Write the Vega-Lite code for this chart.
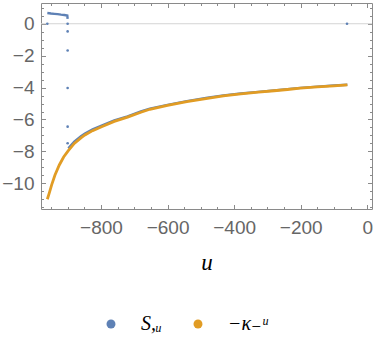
{
  "$schema": "https://vega.github.io/schema/vega-lite/v6.json",
  "width": 331,
  "height": 206,
  "autosize": "none",
  "padding": {"left": 41, "top": 3, "right": 3, "bottom": 148},
  "background": "white",
  "config": {"view": {"stroke": null}},
  "datasets": {
    "blueLine": [
      {"s": "S,ᵤ", "seg": "a", "u": -961, "v": 0.67},
      {"s": "S,ᵤ", "seg": "a", "u": -950, "v": 0.64},
      {"s": "S,ᵤ", "seg": "a", "u": -940, "v": 0.62},
      {"s": "S,ᵤ", "seg": "a", "u": -930, "v": 0.6},
      {"s": "S,ᵤ", "seg": "a", "u": -920, "v": 0.57},
      {"s": "S,ᵤ", "seg": "a", "u": -910, "v": 0.55},
      {"s": "S,ᵤ", "seg": "a", "u": -901, "v": 0.52},
      {"s": "S,ᵤ", "seg": "a", "u": -900, "v": 0.3},
      {"s": "S,ᵤ", "seg": "b", "u": -898, "v": -7.8},
      {"s": "S,ᵤ", "seg": "b", "u": -880, "v": -7.38},
      {"s": "S,ᵤ", "seg": "b", "u": -860, "v": -7.05},
      {"s": "S,ᵤ", "seg": "b", "u": -848, "v": -6.88},
      {"s": "S,ᵤ", "seg": "b", "u": -825, "v": -6.62},
      {"s": "S,ᵤ", "seg": "b", "u": -798, "v": -6.38},
      {"s": "S,ᵤ", "seg": "b", "u": -760, "v": -6.06},
      {"s": "S,ᵤ", "seg": "b", "u": -720, "v": -5.8},
      {"s": "S,ᵤ", "seg": "b", "u": -680, "v": -5.5},
      {"s": "S,ᵤ", "seg": "b", "u": -653, "v": -5.32},
      {"s": "S,ᵤ", "seg": "b", "u": -600, "v": -5.08},
      {"s": "S,ᵤ", "seg": "b", "u": -542, "v": -4.85},
      {"s": "S,ᵤ", "seg": "b", "u": -480, "v": -4.64},
      {"s": "S,ᵤ", "seg": "b", "u": -432, "v": -4.49},
      {"s": "S,ᵤ", "seg": "b", "u": -380, "v": -4.37},
      {"s": "S,ᵤ", "seg": "b", "u": -327, "v": -4.27},
      {"s": "S,ᵤ", "seg": "b", "u": -280, "v": -4.18},
      {"s": "S,ᵤ", "seg": "b", "u": -240, "v": -4.1},
      {"s": "S,ᵤ", "seg": "b", "u": -201, "v": -4.02},
      {"s": "S,ᵤ", "seg": "b", "u": -150, "v": -3.94},
      {"s": "S,ᵤ", "seg": "b", "u": -100, "v": -3.87},
      {"s": "S,ᵤ", "seg": "b", "u": -60, "v": -3.82}
    ],
    "bluePts": [
      {"s": "S,ᵤ", "u": -961, "v": 0},
      {"s": "S,ᵤ", "u": -900, "v": 0},
      {"s": "S,ᵤ", "u": -900, "v": -0.48},
      {"s": "S,ᵤ", "u": -900, "v": -1.68},
      {"s": "S,ᵤ", "u": -900, "v": -4.03},
      {"s": "S,ᵤ", "u": -900, "v": -6.45},
      {"s": "S,ᵤ", "u": -900, "v": -7.49},
      {"s": "S,ᵤ", "u": -61, "v": 0}
    ],
    "orange": [
      {"s": "−κ₋ᵘ", "u": -961, "v": -11.0},
      {"s": "−κ₋ᵘ", "u": -955, "v": -10.6},
      {"s": "−κ₋ᵘ", "u": -948, "v": -10.1},
      {"s": "−κ₋ᵘ", "u": -938, "v": -9.48},
      {"s": "−κ₋ᵘ", "u": -925, "v": -8.85},
      {"s": "−κ₋ᵘ", "u": -912, "v": -8.35},
      {"s": "−κ₋ᵘ", "u": -898, "v": -7.95},
      {"s": "−κ₋ᵘ", "u": -880, "v": -7.5},
      {"s": "−κ₋ᵘ", "u": -860, "v": -7.15},
      {"s": "−κ₋ᵘ", "u": -848, "v": -6.97},
      {"s": "−κ₋ᵘ", "u": -825, "v": -6.7},
      {"s": "−κ₋ᵘ", "u": -798, "v": -6.45},
      {"s": "−κ₋ᵘ", "u": -760, "v": -6.12},
      {"s": "−κ₋ᵘ", "u": -720, "v": -5.85},
      {"s": "−κ₋ᵘ", "u": -680, "v": -5.55},
      {"s": "−κ₋ᵘ", "u": -653, "v": -5.36},
      {"s": "−κ₋ᵘ", "u": -600, "v": -5.12},
      {"s": "−κ₋ᵘ", "u": -542, "v": -4.88},
      {"s": "−κ₋ᵘ", "u": -480, "v": -4.67},
      {"s": "−κ₋ᵘ", "u": -432, "v": -4.52},
      {"s": "−κ₋ᵘ", "u": -380, "v": -4.4},
      {"s": "−κ₋ᵘ", "u": -327, "v": -4.29},
      {"s": "−κ₋ᵘ", "u": -280, "v": -4.2},
      {"s": "−κ₋ᵘ", "u": -240, "v": -4.12},
      {"s": "−κ₋ᵘ", "u": -201, "v": -4.04},
      {"s": "−κ₋ᵘ", "u": -150, "v": -3.96},
      {"s": "−κ₋ᵘ", "u": -100, "v": -3.89},
      {"s": "−κ₋ᵘ", "u": -60, "v": -3.83}
    ],
    "zero": [{"v": 0}],
    "dummy": [{"u": -500, "v": 0}]
  },
  "layer": [
    {
      "data": {"name": "zero"},
      "mark": {"type": "rule", "color": "#d4d4d4", "strokeWidth": 1},
      "encoding": {"y": {"field": "v", "type": "quantitative", "axis": null, "scale": {"domain": [-11.61, 1.3], "nice": false, "zero": false}}}
    },
    {
      "data": {"name": "blueLine"},
      "mark": {"type": "line", "strokeWidth": 2.4, "clip": true},
      "encoding": {
        "x": {"field": "u", "type": "quantitative", "scale": {"domain": [-980, 14], "nice": false, "zero": false},
          "axis": {"orient": "bottom", "values": [-800, -600, -400, -200, 0], "ticks": false, "grid": false, "domainColor": "#8a8a8a", "domainWidth": 1,
            "labelFont": "Liberation Sans", "labelFontSize": 19, "labelColor": "#666666", "labelPadding": 9, "labelFlush": false,
            "title": "u", "titleFont": "Liberation Serif", "titleFontStyle": "italic", "titleFontWeight": "normal", "titleFontSize": 23, "titleColor": "#000000", "titlePadding": 14}},
        "y": {"field": "v", "type": "quantitative", "scale": {"domain": [-11.61, 1.3], "nice": false, "zero": false},
          "axis": {"orient": "left", "values": [0, -2, -4, -6, -8, -10], "ticks": false, "grid": false, "domainColor": "#8a8a8a", "domainWidth": 1,
            "labelFont": "Liberation Sans", "labelFontSize": 19, "labelColor": "#666666", "labelPadding": 7, "labelFlush": false, "title": null}},
        "detail": {"field": "seg"},
        "color": {"field": "s", "type": "nominal", "scale": {"domain": ["S,ᵤ", "−κ₋ᵘ"], "range": ["#5E81B5", "#E19C24"]},
          "legend": {"orient": "none", "legendX": 60, "legendY": 311, "direction": "horizontal", "title": null,
            "symbolType": "circle", "symbolSize": 80, "labelFont": "Liberation Serif, DejaVu Serif", "labelFontStyle": "italic", "labelFontSize": 20, "labelColor": "#000000",
            "labelOffset": 20, "columnPadding": 26,
            "symbolStrokeWidth": 0,
            "encode": {"symbols": {"update": {"fill": {"scale": "color", "field": "value"}, "fillOpacity": {"value": 1}, "strokeWidth": {"value": 0}}}}}}
      }
    },
    {
      "data": {"name": "bluePts"},
      "mark": {"type": "circle", "size": 7, "opacity": 1},
      "encoding": {
        "x": {"field": "u", "type": "quantitative", "axis": null, "scale": {"domain": [-980, 14], "nice": false, "zero": false}},
        "y": {"field": "v", "type": "quantitative", "axis": null, "scale": {"domain": [-11.61, 1.3], "nice": false, "zero": false}},
        "color": {"field": "s", "type": "nominal"}
      }
    },
    {
      "data": {"name": "orange"},
      "mark": {"type": "line", "strokeWidth": 2.8, "clip": true},
      "encoding": {
        "x": {"field": "u", "type": "quantitative", "axis": null, "scale": {"domain": [-980, 14], "nice": false, "zero": false}},
        "y": {"field": "v", "type": "quantitative", "axis": null, "scale": {"domain": [-11.61, 1.3], "nice": false, "zero": false}},
        "color": {"field": "s", "type": "nominal"}
      }
    },
    {
      "data": {"name": "dummy"},
      "mark": {"type": "point", "opacity": 0},
      "encoding": {
        "x": {"field": "u", "type": "quantitative", "scale": {"domain": [-980, 14], "nice": false, "zero": false},
          "axis": {"orient": "bottom", "values": [-800, -600, -400, -200, 0], "labels": false, "domain": false, "grid": false, "tickSize": -4.5, "tickColor": "#8a8a8a", "title": null}},
        "y": {"field": "v", "type": "quantitative", "scale": {"domain": [-11.61, 1.3], "nice": false, "zero": false},
          "axis": {"orient": "left", "values": [0, -2, -4, -6, -8, -10], "labels": false, "domain": false, "grid": false, "tickSize": -4.5, "tickColor": "#8a8a8a", "title": null}}
      }
    },
    {
      "data": {"name": "dummy"},
      "mark": {"type": "point", "opacity": 0},
      "encoding": {
        "x": {"field": "u", "type": "quantitative", "scale": {"domain": [-980, 14], "nice": false, "zero": false},
          "axis": {"orient": "bottom", "values": [-950, -900, -850, -750, -700, -650, -550, -500, -450, -350, -300, -250, -150, -100, -50], "labels": false, "domain": false, "grid": false, "tickSize": -2.5, "tickColor": "#8a8a8a", "title": null}},
        "y": {"field": "v", "type": "quantitative", "scale": {"domain": [-11.61, 1.3], "nice": false, "zero": false},
          "axis": {"orient": "left", "values": [1, 0.5, -0.5, -1, -1.5, -2.5, -3, -3.5, -4.5, -5, -5.5, -6.5, -7, -7.5, -8.5, -9, -9.5, -10.5, -11, -11.5], "labels": false, "domain": false, "grid": false, "tickSize": -2.5, "tickColor": "#8a8a8a", "title": null}}
      }
    },
    {
      "data": {"name": "dummy"},
      "mark": {"type": "point", "opacity": 0},
      "encoding": {
        "x": {"field": "u", "type": "quantitative", "scale": {"domain": [-980, 14], "nice": false, "zero": false},
          "axis": {"orient": "top", "values": [-800, -600, -400, -200, 0], "labels": false, "domain": true, "domainColor": "#8a8a8a", "grid": false, "tickSize": -4.5, "tickColor": "#8a8a8a", "title": null}},
        "y": {"field": "v", "type": "quantitative", "scale": {"domain": [-11.61, 1.3], "nice": false, "zero": false},
          "axis": {"orient": "right", "values": [0, -2, -4, -6, -8, -10], "labels": false, "domain": true, "domainColor": "#8a8a8a", "grid": false, "tickSize": -4.5, "tickColor": "#8a8a8a", "title": null}}
      }
    },
    {
      "data": {"name": "dummy"},
      "mark": {"type": "point", "opacity": 0},
      "encoding": {
        "x": {"field": "u", "type": "quantitative", "scale": {"domain": [-980, 14], "nice": false, "zero": false},
          "axis": {"orient": "top", "values": [-950, -900, -850, -750, -700, -650, -550, -500, -450, -350, -300, -250, -150, -100, -50], "labels": false, "domain": false, "grid": false, "tickSize": -2.5, "tickColor": "#8a8a8a", "title": null}},
        "y": {"field": "v", "type": "quantitative", "scale": {"domain": [-11.61, 1.3], "nice": false, "zero": false},
          "axis": {"orient": "right", "values": [1, 0.5, -0.5, -1, -1.5, -2.5, -3, -3.5, -4.5, -5, -5.5, -6.5, -7, -7.5, -8.5, -9, -9.5, -10.5, -11, -11.5], "labels": false, "domain": false, "grid": false, "tickSize": -2.5, "tickColor": "#8a8a8a", "title": null}}
      }
    }
  ],
  "resolve": {"axis": {"x": "independent", "y": "independent"}}
}
